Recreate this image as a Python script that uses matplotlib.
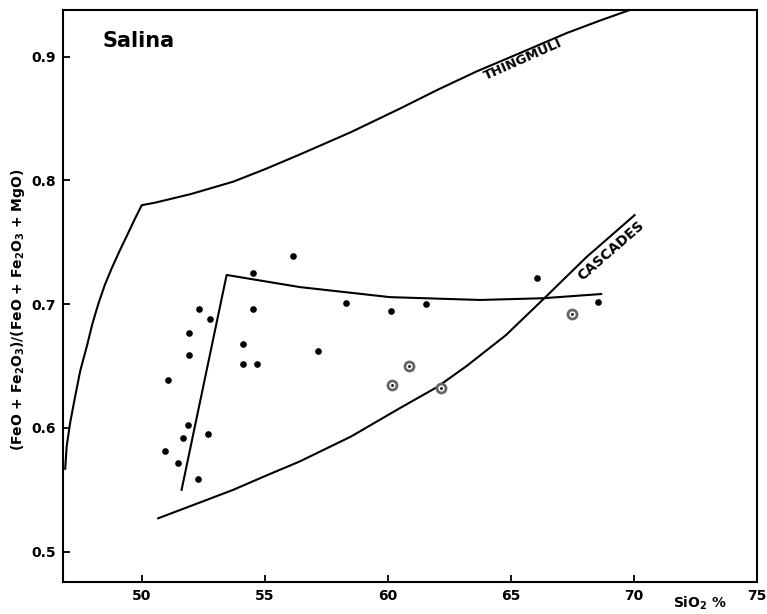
import numpy as np
import matplotlib.pyplot as plt

plt.rcParams['font.family'] = ['DejaVu Sans']
plt.rcParams['font.weight'] = 'bold'
plt.rcParams['mathtext.default'] = 'bf'

# Thingmuli trend
thing_x = [46.89, 46.95, 47.09, 47.29, 47.5, 47.77, 48.0, 48.24, 48.5,
           48.78, 49.1, 49.39, 49.7, 50.0,
           50.54, 52.0, 53.72, 55.0, 56.43, 58.5, 60.49, 62.0, 63.6,
           65.5, 67.26, 68.6, 69.83, 70.5]
thing_y = [0.567, 0.585, 0.604, 0.625, 0.646, 0.666, 0.6845, 0.7005, 0.7155,
           0.729, 0.743, 0.755, 0.768, 0.780,
           0.782, 0.789, 0.799, 0.809, 0.821, 0.839, 0.858, 0.873, 0.888,
           0.904, 0.919, 0.929, 0.9377, 0.942]

# Cascades trend
casc_x = [50.67, 52.0, 53.72, 55.0, 56.43, 58.5, 60.49, 62.0, 63.2,
          64.8, 66.37, 68.07, 70.03]
casc_y = [0.527, 0.537, 0.550, 0.561, 0.573, 0.593, 0.616, 0.633, 0.650,
          0.675, 0.705, 0.738, 0.772]

# Salina trend
sal_x = [51.62, 53.45, 56.43, 60.08, 63.74, 66.3, 68.67]
sal_y = [0.550, 0.7236, 0.7138, 0.7057, 0.7034, 0.7048, 0.7082]

# Salina samples (filled)
pts_x = [56.16, 54.53, 52.34, 52.77, 54.53, 51.93, 54.12, 51.93, 54.12,
         54.67, 51.08, 51.87, 51.69, 52.70, 50.95, 51.46, 52.27, 57.17,
         58.32, 60.11, 61.57, 66.08, 68.54]
pts_y = [0.739, 0.725, 0.696, 0.688, 0.696, 0.677, 0.668, 0.659, 0.652,
         0.652, 0.639, 0.602, 0.5915, 0.595, 0.581, 0.572, 0.559, 0.662,
         0.701, 0.6945, 0.700, 0.721, 0.702]

# circled samples
circ_x = [67.48, 60.85, 60.19, 62.15]
circ_y = [0.692, 0.650, 0.635, 0.632]

fig = plt.figure(figsize=(7.67, 6.14), dpi=100)
ax = fig.add_axes([0.0821, 0.0521, 0.9048, 0.9316])

ax.plot(thing_x, thing_y, color='black', lw=1.5)
ax.plot(casc_x, casc_y, color='black', lw=1.5)
ax.plot(sal_x, sal_y, color='black', lw=1.5)
ax.plot(pts_x, pts_y, 'o', color='black', ms=4.8, mec='none')
ax.plot(circ_x, circ_y, 'o', mfc='white', mec='#666666', mew=2, ms=6.5)
ax.plot(circ_x, circ_y, 'o', color='black', ms=2, mec='none')

ax.text(65.48, 0.8975, 'THINGMULI', rotation=24, rotation_mode='anchor',
        ha='center', va='center', fontsize=9.5, fontweight='bold')
ax.text(69.05, 0.743, 'CASCADES', rotation=41, rotation_mode='anchor',
        ha='center', va='center', fontsize=10, fontweight='bold')
ax.text(0.1095, 0.946, 'Salina', transform=ax.transAxes, ha='center',
        va='center', fontsize=15, fontweight='bold')

ax.set_xlim(46.8, 75)
ax.set_ylim(0.4755, 0.9377)
ax.set_xticks([50, 55, 60, 65, 70, 75])
ax.set_yticks([0.5, 0.6, 0.7, 0.8, 0.9])
ax.tick_params(direction='in', length=5, width=1.3, labelsize=10, pad=5)
for s in ax.spines.values():
    s.set_linewidth(1.5)

ax.text(0.918, -0.037, 'SiO$_2$ %', transform=ax.transAxes, ha='center',
        va='center', fontsize=10, fontweight='bold')
ax.text(-0.065, 0.476, '(FeO + Fe$_2$O$_3$)/(FeO + Fe$_2$O$_3$ + MgO)',
        transform=ax.transAxes, rotation=90, ha='center', va='center',
        fontsize=10, fontweight='bold')

fig.savefig('out.png', dpi=100)
